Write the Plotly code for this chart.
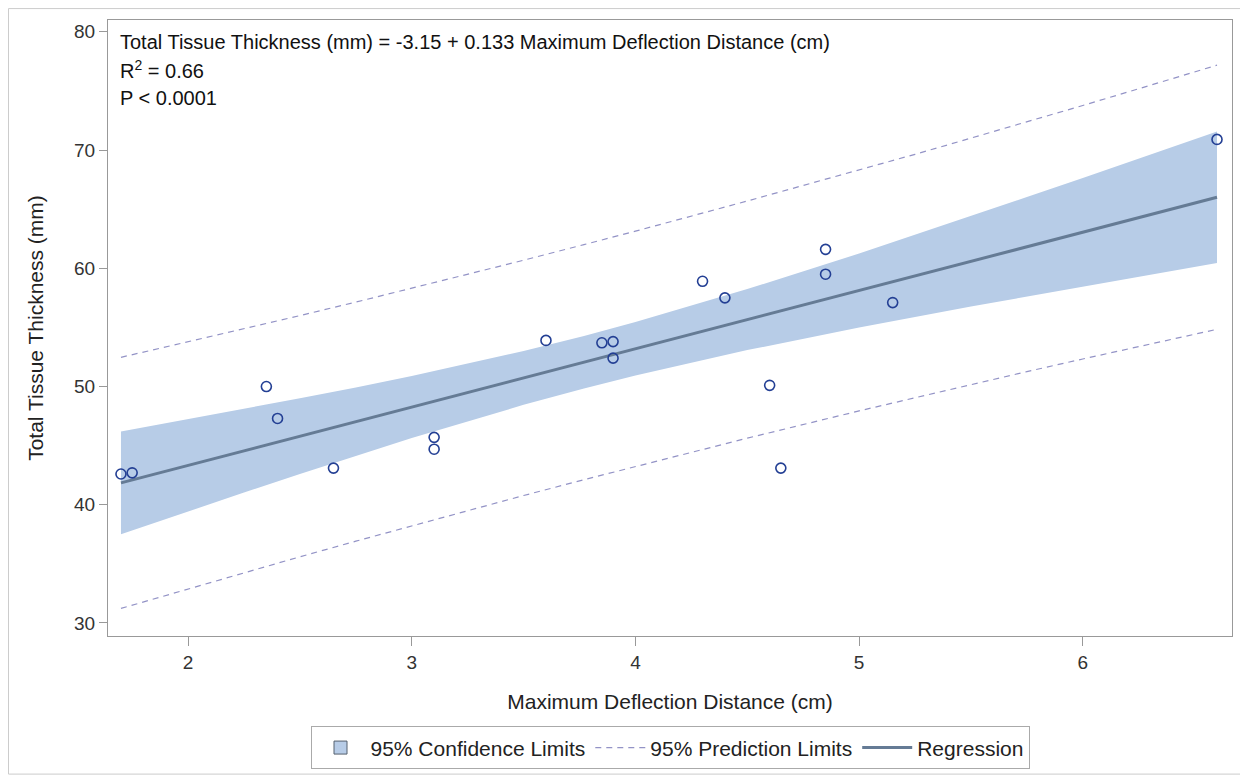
import plotly.graph_objects as go

# observed data
deflection_cm = [1.70, 1.75, 2.35, 2.40, 2.65, 3.10, 3.10, 3.60, 3.85, 3.90, 3.90,
                 4.30, 4.40, 4.60, 4.65, 4.85, 4.85, 5.15, 6.60]
thickness_mm = [42.6, 42.7, 50.0, 47.3, 43.1, 45.7, 44.7, 53.9, 53.7, 53.8, 52.4,
                58.9, 57.5, 50.1, 43.1, 61.6, 59.5, 57.1, 70.9]

# fit curves
fit_x = [1.7, 2.0, 2.25, 2.5, 2.75, 3.0, 3.5, 3.77, 4.0, 4.5, 5.0, 5.25, 5.5, 5.75, 6.0, 6.3, 6.6]
fit_y = [41.85, 43.33, 44.56, 45.80, 47.03, 48.26, 50.73, 52.06, 53.19, 55.66, 58.12, 59.35,
         60.59, 61.82, 63.05, 64.53, 66.01]
ci_lo = [37.50, 39.43, 41.03, 42.60, 44.14, 45.64, 48.45, 49.84, 50.93, 53.08, 54.99, 55.88,
         56.77, 57.62, 58.46, 59.46, 60.45]
ci_hi = [46.20, 47.23, 48.09, 49.00, 49.92, 50.88, 53.01, 54.28, 55.45, 58.24, 61.25, 62.82,
         64.41, 66.02, 67.64, 69.60, 71.57]
pi_lo = [31.23, 32.89, 34.24, 35.60, 36.92, 38.22, 40.78, 42.12, 43.24, 45.63, 47.94, 49.06,
         50.17, 51.26, 52.33, 53.59, 54.84]
pi_hi = [52.47, 53.77, 54.88, 56.00, 57.14, 58.30, 60.68, 62.00, 63.14, 65.69, 68.30, 69.64,
         71.01, 72.38, 73.77, 75.47, 77.18]

x_ticks = [2, 3, 4, 5, 6]
y_ticks = [30, 40, 50, 60, 70, 80]

band_color = "#b7cce7"
reg_color = "#657b95"
pi_color = "#9393c6"
pt_color = "#233f94"
FONT = "Liberation Sans, Arial, sans-serif"

# page geometry (body has an 8px margin)
W, H = 1240, 773
L, T, R, B = 100, 12, 16, 141
PW = W - L - R
PH = H - T - B


def px_to_paper_x(px):
    return (px - 8 - L) / PW


def py_to_paper_y(py):
    return (T + 8 + PH - py) / PH


fig = go.Figure()

fig.add_trace(go.Scatter(
    x=fit_x + fit_x[::-1], y=ci_hi + ci_lo[::-1],
    fill="toself", fillcolor=band_color, line=dict(width=0),
    mode="lines", showlegend=False, hoverinfo="skip"))

# legend swatch for confidence band
fig.add_trace(go.Scatter(
    x=[None], y=[None], mode="markers", name="95% Confidence Limits",
    marker=dict(symbol="square", size=13, color=band_color,
                line=dict(color="#55606e", width=1))))

fig.add_trace(go.Scatter(
    x=fit_x, y=pi_hi, mode="lines", name="95% Prediction Limits",
    line=dict(color=pi_color, width=1.2, dash="6px,5px"),
    legendgroup="pi"))
fig.add_trace(go.Scatter(
    x=fit_x, y=pi_lo, mode="lines", name="95% Prediction Limits", showlegend=False,
    line=dict(color=pi_color, width=1.2, dash="6px,5px"),
    legendgroup="pi"))

fig.add_trace(go.Scatter(
    x=fit_x, y=fit_y, mode="lines", name="Regression",
    line=dict(color=reg_color, width=3)))

fig.add_trace(go.Scatter(
    x=deflection_cm, y=thickness_mm, mode="markers", showlegend=False,
    marker=dict(symbol="circle-open", size=10, color=pt_color,
                line=dict(width=1.6, color=pt_color))))

# text annotations
ann_lines = [
    "Total Tissue Thickness (mm) = -3.15 + 0.133 Maximum Deflection Distance (cm)",
    "R<sup>2</sup> = 0.66",
    "P < 0.0001",
]
ann_py = [42, 70, 99]
for txt, py in zip(ann_lines, ann_py):
    fig.add_annotation(
        x=px_to_paper_x(118), y=py_to_paper_y(py), xref="paper", yref="paper",
        text=txt, showarrow=False, xanchor="left", yanchor="middle",
        font=dict(family=FONT, size=20, color="#111111"))

# outer frame
fig.add_shape(type="rect", xref="paper", yref="paper",
              x0=px_to_paper_x(8.5), x1=px_to_paper_x(1246),
              y0=py_to_paper_y(779), y1=py_to_paper_y(8.5),
              line=dict(color="#cccccc", width=1), layer="below")

fig.update_layout(
    width=W, height=H,
    margin=dict(l=L, r=R, t=T, b=B),
    paper_bgcolor="white", plot_bgcolor="white",
    font=dict(family=FONT, size=19, color="#333333"),
    showlegend=True,
    legend=dict(orientation="h", x=0.5, xanchor="center",
                y=py_to_paper_y(731), yanchor="top",
                bordercolor="#aaaaaa", borderwidth=1, bgcolor="white",
                font=dict(family=FONT, size=21, color="#222222"),
                itemwidth=50, tracegroupgap=0),
    xaxis=dict(range=[1.642, 6.667], tickvals=x_ticks, showgrid=False, zeroline=False,
               showline=True, linecolor="#999999", linewidth=1, mirror=True,
               ticks="outside", ticklen=9, tickcolor="#999999",
               tickfont=dict(size=19, color="#333333"),
               title=dict(text="Maximum Deflection Distance (cm)", standoff=22,
                          font=dict(size=21, color="#222222"))),
    yaxis=dict(range=[28.9, 81.0], tickvals=y_ticks, showgrid=False, zeroline=False,
               showline=True, linecolor="#999999", linewidth=1, mirror=True,
               ticks="outside", ticklen=8, tickcolor="#999999",
               tickfont=dict(size=19, color="#333333"),
               title=dict(text="Total Tissue Thickness (mm)", standoff=24,
                          font=dict(size=21, color="#222222"))),
)

fig.write_html("out.html")
